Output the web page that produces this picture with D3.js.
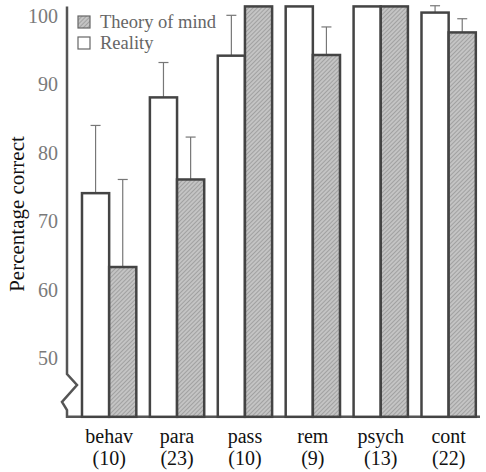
<!DOCTYPE html>
<html>
<head>
<meta charset="utf-8">
<script src="https://cdn.jsdelivr.net/npm/d3@7"></script>
<style>
  body { margin: 0; background: #fff; }
</style>
</head>
<body>
<div id="chart"></div>
<script>
// data
var categories = ["behav", "para", "pass", "rem", "psych", "cont"];
var groupSizes = ["(10)", "(23)", "(10)", "(9)", "(13)", "(22)"];
var reality = [74.1, 88.1, 94.2, 101.4, 101.4, 100.5];
var realityErr = [9.9, 5.1, 5.9, 0, 0, 1.0];
var theory = [63.3, 76.1, 101.4, 94.3, 101.4, 97.6];
var theoryErr = [12.8, 6.2, 0, 4.1, 0, 2.0];
var yTicks = [50, 60, 70, 80, 90, 100];
var seriesNames = ["reality", "theory"];

var svgWidth = 486, svgHeight = 472;
var serif = "'Liberation Serif', monospace";

var svg = d3.select("#chart")
  .append("svg")
  .attr("width", svgWidth)
  .attr("height", svgHeight);

// hatch pattern for theory-of-mind bars
var defs = svg.append("defs");
var pat = defs.append("pattern")
  .attr("id", "hatch")
  .attr("patternUnits", "userSpaceOnUse")
  .attr("width", 3)
  .attr("height", 3)
  .attr("patternTransform", "rotate(45)");
pat.append("rect").attr("width", 3).attr("height", 3).attr("fill", "#c4c4c4");
pat.append("line").attr("x1", 0).attr("y1", 0).attr("x2", 0).attr("y2", 3)
  .attr("stroke", "#8a8a8a").attr("stroke-width", 1.2);

// scales
var y = d3.scaleLinear().domain([50, 100]).range([358, 16]);
var yBase = y(41.4);
var yTop = y(101.4);

var x0 = d3.scaleBand()
  .domain(categories)
  .range([75.2, 482.6])
  .paddingInner(0.2)
  .paddingOuter(0.1);

var x1 = d3.scaleBand()
  .domain(seriesNames)
  .range([0, x0.bandwidth()]);

var axisX = 67;

// y axis with break
var axisPath = d3.path();
axisPath.moveTo(axisX, yTop);
axisPath.lineTo(axisX, 374);
axisPath.lineTo(77, 385);
axisPath.lineTo(62, 402);
axisPath.lineTo(axisX, 410);
axisPath.lineTo(axisX, yBase);
axisPath.lineTo(480, yBase);
svg.append("path")
  .attr("d", axisPath.toString())
  .attr("fill", "none")
  .attr("stroke", "#555")
  .attr("stroke-width", 2.5)
  .attr("stroke-linejoin", "miter");

svg.append("g").selectAll("text")
  .data(yTicks)
  .enter()
  .append("text")
  .attr("x", 58)
  .attr("y", function(d) { return y(d); })
  .attr("dy", "0.35em")
  .attr("text-anchor", "end")
  .style("font-family", serif)
  .style("font-size", "20px")
  .attr("fill", "#7a7a7a")
  .text(function(d) { return d; });

// y title
svg.append("text")
  .attr("transform", "translate(24, 214) rotate(-90)")
  .attr("text-anchor", "middle")
  .style("font-family", serif)
  .style("font-size", "21px")
  .attr("fill", "#111")
  .text("Percentage correct");

// bars
var rows = categories.map(function(c, i) {
  return {
    cat: c,
    vals: [
      { key: "reality", v: reality[i], e: realityErr[i] },
      { key: "theory", v: theory[i], e: theoryErr[i] }
    ]
  };
});

var groups = svg.append("g").selectAll("g")
  .data(rows)
  .enter()
  .append("g")
  .attr("transform", function(d) { return "translate(" + x0(d.cat) + ",0)"; });

// error bars first so the bar outline sits on top
groups.selectAll("g.err")
  .data(function(d) { return d.vals.filter(function(v) { return v.e > 0; }); })
  .enter()
  .append("g")
  .attr("class", "err")
  .each(function(d) {
    var g = d3.select(this);
    var cx = x1(d.key) + x1.bandwidth() / 2;
    g.append("line")
      .attr("x1", cx).attr("x2", cx)
      .attr("y1", y(d.v)).attr("y2", y(d.v + d.e))
      .attr("stroke", "#777").attr("stroke-width", 1.2);
    g.append("line")
      .attr("x1", cx - 5).attr("x2", cx + 5)
      .attr("y1", y(d.v + d.e)).attr("y2", y(d.v + d.e))
      .attr("stroke", "#777").attr("stroke-width", 1.2);
  });

groups.selectAll("rect")
  .data(function(d) { return d.vals; })
  .enter()
  .append("rect")
  .attr("x", function(d) { return x1(d.key); })
  .attr("y", function(d) { return y(d.v); })
  .attr("width", x1.bandwidth())
  .attr("height", function(d) { return yBase - y(d.v); })
  .attr("fill", function(d) { return d.key == "theory" ? "url(#hatch)" : "#fff"; })
  .attr("stroke", "#444")
  .attr("stroke-width", 2.5);

// category labels
var labels = svg.append("g").selectAll("g")
  .data(categories)
  .enter()
  .append("g");

labels.append("text")
  .attr("x", function(d) { return x0(d) + x0.bandwidth() / 2; })
  .attr("y", 443)
  .attr("text-anchor", "middle")
  .style("font-family", serif)
  .style("font-size", "20px")
  .attr("fill", "#111")
  .text(function(d) { return d; });

labels.append("text")
  .attr("x", function(d) { return x0(d) + x0.bandwidth() / 2; })
  .attr("y", 465)
  .attr("text-anchor", "middle")
  .style("font-family", serif)
  .style("font-size", "20px")
  .attr("fill", "#111")
  .text(function(d, i) { return groupSizes[i]; });

// legend
var legend = svg.append("g");
var legendItems = [
  { name: "Theory of mind", fill: "url(#hatch)", y: 22 },
  { name: "Reality", fill: "#fff", y: 43 }
];
legend.selectAll("rect")
  .data(legendItems)
  .enter()
  .append("rect")
  .attr("x", 78)
  .attr("y", function(d) { return d.y - 6; })
  .attr("width", 12)
  .attr("height", 12)
  .attr("fill", function(d) { return d.fill; })
  .attr("stroke", "#666")
  .attr("stroke-width", 1.2);

legend.selectAll("text")
  .data(legendItems)
  .enter()
  .append("text")
  .attr("x", 100)
  .attr("y", function(d) { return d.y; })
  .attr("dy", "0.35em")
  .style("font-family", serif)
  .style("font-size", "18.5px")
  .attr("fill", "#666")
  .text(function(d) { return d.name; });
</script>
</body>
</html>
